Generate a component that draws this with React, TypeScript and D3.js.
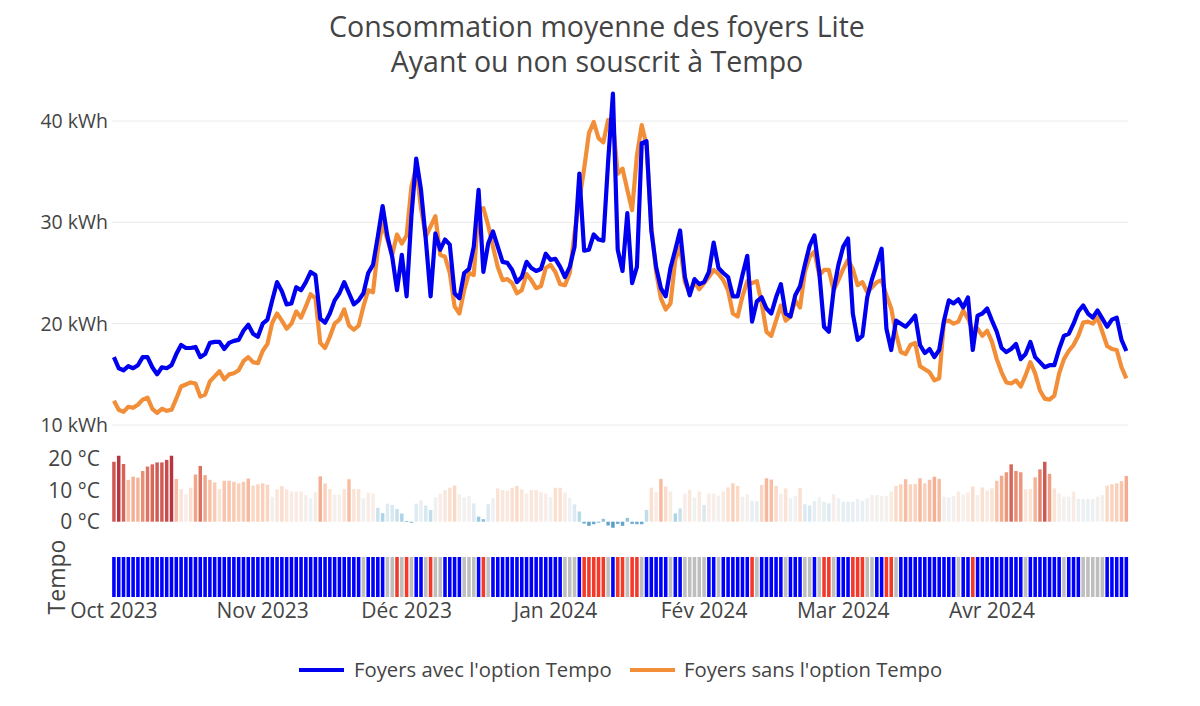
import React from "react";
import * as d3 from "d3";

// Daily average consumption (kWh), 1 Oct 2023 -> 29 Apr 2024
const avecTempo = [
  16.7, 15.6, 15.4, 15.8, 15.6, 15.9, 16.7, 16.7, 15.7, 15.0, 15.7, 15.6, 15.9, 17.0, 17.9, 17.6, 17.6, 17.7, 16.7, 17.0,
  18.1, 18.2, 18.2, 17.5, 18.1, 18.3, 18.4, 19.3, 19.9, 19.0, 18.7, 20.0, 20.4, 22.3, 24.1, 23.2, 21.9, 22.0, 23.6, 23.3,
  24.1, 25.1, 24.8, 20.5, 20.1, 21.0, 22.3, 23.0, 24.1, 23.0, 21.9, 22.3, 23.0, 25.0, 25.8, 28.6, 31.6, 28.6, 26.6, 23.3,
  26.8, 22.7, 30.6, 36.3, 33.2, 28.3, 22.7, 28.9, 27.3, 28.3, 27.8, 23.0, 22.5, 25.0, 25.4, 27.6, 33.2, 25.1, 27.9, 29.1,
  27.6, 26.1, 26.0, 25.3, 24.1, 24.6, 26.1, 25.5, 25.2, 25.4, 26.9, 26.3, 26.4, 25.6, 24.6, 25.6, 27.6, 34.8, 27.2, 27.3,
  28.8, 28.3, 28.2, 36.0, 42.7, 27.3, 25.2, 30.9, 24.0, 25.6, 37.8, 38.0, 29.2, 25.6, 23.5, 22.7, 25.5, 27.3, 29.2, 24.6,
  22.8, 24.4, 23.9, 24.1, 25.1, 28.0, 25.5, 25.0, 24.6, 22.7, 22.7, 24.8, 26.7, 20.2, 22.2, 22.6, 21.5, 21.0, 22.6, 23.9,
  21.0, 20.7, 22.8, 23.7, 25.8, 27.7, 28.7, 25.1, 19.7, 19.2, 23.3, 25.8, 27.6, 28.4, 21.0, 18.4, 18.8, 22.6, 24.4, 25.9,
  27.4, 19.5, 17.4, 20.3, 20.0, 19.7, 20.2, 20.8, 17.9, 17.1, 17.5, 16.7, 17.4, 20.3, 22.3, 22.0, 22.4, 21.6, 22.6, 17.4,
  20.8, 21.0, 21.5, 20.3, 19.2, 17.6, 17.2, 17.5, 18.0, 16.5, 17.0, 18.2, 16.7, 16.2, 15.7, 15.9, 15.9, 17.5, 18.8, 19.0,
  20.0, 21.2, 21.8, 21.0, 20.6, 21.3, 20.5, 19.7, 20.4, 20.6, 18.4, 17.3,
];

const sansTempo = [
  12.4, 11.5, 11.3, 11.8, 11.7, 12.0, 12.5, 12.7, 11.6, 11.2, 11.6, 11.4, 11.5, 12.6, 13.8, 14.0, 14.2, 14.1, 12.8, 13.0,
  14.3, 14.8, 15.3, 14.5, 15.0, 15.1, 15.4, 16.3, 16.7, 16.2, 16.1, 17.3, 18.0, 20.1, 21.0, 20.3, 19.5, 20.0, 21.2, 20.6,
  21.7, 22.9, 22.5, 18.1, 17.6, 18.7, 20.0, 20.4, 21.4, 19.8, 19.4, 19.8, 21.7, 23.3, 23.1, 27.3, 29.9, 28.3, 26.8, 28.8,
  27.9, 28.7, 33.5, 35.4, 31.4, 28.6, 29.6, 30.6, 26.8, 26.6, 25.0, 21.7, 21.0, 23.3, 25.0, 24.8, 31.2, 31.4, 29.7, 27.6,
  25.6, 24.3, 24.4, 24.0, 23.0, 23.3, 24.9, 24.3, 23.5, 23.7, 25.5, 25.8, 25.1, 23.9, 23.8, 25.0, 28.9, 32.2, 35.3, 38.8,
  39.9, 38.3, 37.9, 40.1, 39.9, 34.8, 35.3, 33.2, 31.2, 36.6, 39.6, 37.6, 29.6, 25.1, 22.5, 21.4, 22.0, 26.3, 27.6, 24.1,
  23.0, 24.1, 23.4, 24.0, 24.6, 25.3, 24.9, 24.3, 23.3, 21.0, 20.7, 22.7, 24.2, 24.0, 24.2, 22.0, 19.2, 18.8, 20.3, 21.8,
  20.3, 20.7, 22.3, 21.6, 25.1, 26.6, 27.1, 24.8, 25.3, 25.3, 23.3, 24.3, 25.4, 26.3, 25.4, 23.8, 24.1, 23.1, 23.6, 24.1,
  24.3, 22.8, 21.5, 19.0, 17.2, 17.0, 17.9, 18.1, 15.8, 15.5, 15.2, 14.4, 14.6, 20.2, 20.3, 20.0, 20.2, 21.3, 20.5, 19.3,
  19.5, 18.8, 19.3, 18.2, 16.5, 15.2, 14.2, 14.1, 14.4, 13.8, 14.9, 16.2, 15.1, 13.4, 12.6, 12.5, 12.9, 15.1, 16.5, 17.3,
  17.9, 18.8, 20.1, 20.2, 20.0, 20.6, 19.2, 17.8, 17.5, 17.4, 15.7, 14.6,
];

// Daily mean temperature (°C)
const temperature = [
  18.9, 20.8, 18.2, 13.2, 14.2, 13.9, 16.0, 17.4, 18.1, 18.7, 18.7, 19.5, 20.8, 13.5, 10.3, 8.7, 10.7, 14.9, 17.6, 14.7,
  13.2, 12.4, 10.3, 12.9, 12.9, 12.6, 12.1, 12.6, 13.6, 11.4, 11.8, 12.1, 11.7, 7.9, 10.2, 11.2, 10.2, 9.5, 9.5, 9.5,
  8.4, 7.4, 9.3, 14.3, 12.1, 10.3, 8.6, 8.6, 10.3, 13.4, 10.3, 10.3, 7.4, 9.1, 8.9, 4.4, 2.7, 5.7, 5.3, 4.0,
  2.6, 0.2, -0.3, 5.7, 6.7, 5.1, 3.7, 7.7, 8.9, 10.0, 10.7, 11.4, 8.6, 7.7, 8.1, 5.8, 1.6, 0.8, 5.5, 7.4,
  10.5, 10.0, 9.8, 10.7, 11.3, 10.2, 8.9, 10.0, 10.0, 9.3, 8.9, 7.7, 10.7, 10.7, 9.2, 7.6, 5.5, 3.2, -0.6, -1.3,
  -0.8, -0.3, 0.9, -1.2, -1.9, -0.7, -1.3, 1.2, -0.7, -0.8, -0.8, 3.7, 10.7, 9.3, 13.5, 11.1, 9.5, 2.6, 4.2, 8.9,
  10.0, 7.6, 9.5, 5.3, 8.9, 8.9, 8.2, 9.5, 10.8, 12.1, 11.3, 7.9, 8.6, 6.6, 6.5, 11.6, 13.7, 13.3, 11.3, 8.8,
  10.5, 7.4, 8.2, 10.7, 5.5, 5.1, 6.5, 7.7, 6.3, 5.8, 8.7, 7.4, 6.3, 6.3, 6.3, 7.2, 6.6, 7.4, 8.4, 8.4,
  8.1, 8.1, 9.5, 11.3, 11.8, 13.4, 11.8, 11.9, 13.7, 12.1, 13.2, 14.2, 13.5, 7.9, 7.7, 8.1, 9.5, 8.6, 9.2, 11.1,
  8.4, 10.8, 9.8, 10.5, 12.9, 14.5, 15.6, 18.1, 16.0, 15.6, 10.2, 10.3, 14.0, 16.5, 18.9, 15.1, 10.5, 8.9, 7.9, 7.9,
  9.5, 7.2, 7.2, 7.2, 7.2, 7.9, 8.4, 11.4, 11.8, 12.1, 12.8, 14.4,
];

// Tempo day colour, run-length: [colour, number of days]
const tempoRuns: [string, number][] = [
  ["B", 52], ["W", 1], ["B", 4], ["W", 2], ["R", 1], ["W", 1], ["R", 1], ["W", 1], ["B", 2], ["W", 1],
  ["R", 1], ["W", 2], ["B", 4], ["W", 3], ["B", 1], ["R", 1], ["W", 1], ["B", 15], ["W", 3], ["B", 1],
  ["R", 5], ["W", 1], ["B", 1], ["R", 2], ["W", 1], ["R", 2], ["W", 1], ["B", 5], ["W", 1], ["B", 2],
  ["W", 5], ["B", 2], ["W", 1], ["B", 6], ["R", 1], ["W", 1], ["B", 5], ["W", 1], ["B", 3], ["W", 2],
  ["B", 1], ["W", 1], ["R", 2], ["W", 1], ["B", 3], ["R", 3], ["W", 2], ["B", 2], ["R", 2], ["W", 1],
  ["B", 12], ["W", 1], ["B", 2], ["R", 1], ["B", 10], ["W", 1], ["B", 7], ["W", 1], ["B", 3], ["W", 5],
  ["B", 5],
];

const monthLabels = ["Oct 2023", "Nov 2023", "Déc 2023", "Jan 2024", "Fév 2024", "Mar 2024", "Avr 2024"];
const kwhTicks = [10, 20, 30, 40];
const tempTicks = [0, 10, 20];
const seriesNames = ["Foyers avec l'option Tempo", "Foyers sans l'option Tempo"];
const titleLines = ["Consommation moyenne des foyers Lite", "Ayant ou non souscrit à Tempo"];

const BLUE = "#0000f0";
const ORANGE = "#f28e38";
const TEMPO_COLORS: Record<string, string> = { B: "#0000ff", W: "#bebebe", R: "#f2392a" };
const FONT = "'Open Sans', 'Noto Sans', Arial, sans-serif";
const TXT = "#444";

export default function App() {
  const start = new Date(Date.UTC(2023, 9, 1));
  const dates = avecTempo.map((_, i) => d3.utcDay.offset(start, i));
  const DAY = 864e5;
  const left = 112, right = 1128;
  const x = d3
    .scaleUtc()
    .domain([new Date(+dates[0] - 0.4 * DAY), new Date(+dates[dates.length - 1] + 0.35 * DAY)])
    .range([left, right]);
  const y = d3.scaleLinear().domain([10, 40]).range([425, 121]);
  const yT = d3.scaleLinear().domain([0, 20]).range([521.7, 458.3]);
  const tempColor = d3.scaleSequential(d3.interpolateRdBu).domain([24.5, -8.5]);

  const tempo: string[] = [];
  tempoRuns.forEach(([c, n]) => {
    for (let k = 0; k < n; k++) tempo.push(c);
  });

  const line = d3
    .line<number>()
    .x((_, i) => x(dates[i]))
    .y((d) => y(d))
    .curve(d3.curveLinear);

  const monthStarts = monthLabels.map((_, i) => d3.utcMonth.offset(start, i));
  const dayW = x(dates[1]) - x(dates[0]);
  const tBarW = dayW * 0.72;
  const tempoW = dayW * 0.74;

  return (
    <svg
      width={1200}
      height={706}
      style={{ position: "absolute", left: 0, top: 0, display: "block", background: "#fff" }}
      fontFamily={FONT}
    >
      {/* Title */}
      <text x={597} y={37} textAnchor="middle" fontSize={28.5} fill={TXT}>
        {titleLines[0]}
      </text>
      <text x={597} y={72} textAnchor="middle" fontSize={28.5} fill={TXT}>
        {titleLines[1]}
      </text>

      {/* Gridlines main */}
      {kwhTicks.map((t) => (
        <line key={t} x1={left} x2={right} y1={y(t)} y2={y(t)} stroke="#eaeaea" strokeWidth={1} />
      ))}
      {kwhTicks.map((t) => (
        <text key={"l" + t} x={108} y={y(t)} dy="0.36em" textAnchor="end" fontSize={19.5} fill={TXT}>
          {t} kWh
        </text>
      ))}

      {/* Lines */}
      <path d={line(sansTempo) || ""} fill="none" stroke={ORANGE} strokeWidth={4.2} strokeLinejoin="round" />
      <path d={line(avecTempo) || ""} fill="none" stroke={BLUE} strokeWidth={4.2} strokeLinejoin="round" />

      {/* Temperature */}
      {temperature.map((t, i) => {
        const cx = x(dates[i]);
        const y0 = yT(0);
        const y1 = yT(t);
        return (
          <rect
            key={"t" + i}
            x={cx - tBarW / 2}
            y={Math.min(y0, y1)}
            width={tBarW}
            height={Math.max(0.8, Math.abs(y1 - y0))}
            fill={tempColor(t)}
            fillOpacity={0.93}
          />
        );
      })}
      {tempTicks.map((t) => (
        <text key={"tt" + t} x={100} y={yT(t)} dy="0.36em" textAnchor="end" fontSize={21} fill={TXT}>
          {t} °C
        </text>
      ))}

      {/* Tempo strip */}
      {tempo.map((c, i) => (
        <rect
          key={"p" + i}
          x={x(dates[i]) - tempoW / 2}
          y={557}
          width={tempoW}
          height={40}
          fill={TEMPO_COLORS[c]}
        />
      ))}
      <text
        transform="translate(65,577) rotate(-90)"
        textAnchor="middle"
        fontSize={23}
        fill={TXT}
      >
        Tempo
      </text>

      {/* X axis labels */}
      {monthStarts.map((d, i) => (
        <text key={"m" + i} x={x(d)} y={618} textAnchor="middle" fontSize={21} fill={TXT}>
          {monthLabels[i]}
        </text>
      ))}

      {/* Legend */}
      <g>
        <line x1={299} x2={344} y1={670} y2={670} stroke={BLUE} strokeWidth={4.2} />
        <text x={354} y={670} dy="0.36em" fontSize={20.3} fill={TXT}>
          {seriesNames[0]}
        </text>
        <line x1={630} x2={675} y1={670} y2={670} stroke={ORANGE} strokeWidth={4.2} />
        <text x={684} y={670} dy="0.36em" fontSize={20.3} fill={TXT}>
          {seriesNames[1]}
        </text>
      </g>
    </svg>
  );
}
